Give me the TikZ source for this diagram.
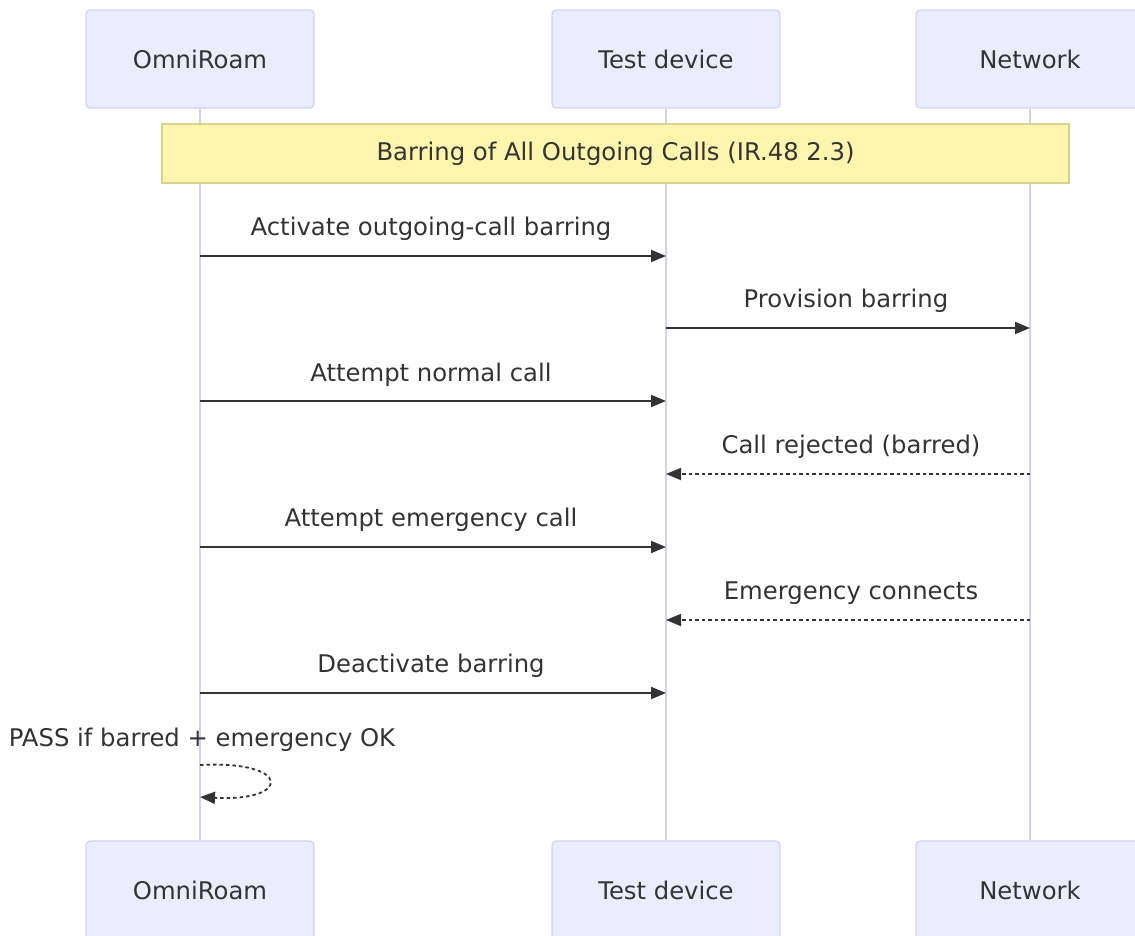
\documentclass[tikz,border=0pt]{standalone}
\usepackage{fontspec}
\setmainfont{DejaVu Sans}
\usetikzlibrary{arrows.meta}
\definecolor{actfill}{HTML}{ECECFF}
\definecolor{actline}{HTML}{D6D0F8}
\definecolor{lifeline}{HTML}{D6D0F8}
\definecolor{notefill}{HTML}{FFF5AD}
\definecolor{noteline}{HTML}{D4D48A}
\definecolor{msgline}{HTML}{333333}

\begin{document}
\begin{tikzpicture}[x=1pt, y=-1pt,
		every node/.style={font=\fontsize{24.3}{29}\selectfont, text=msgline},
		actor/.style={rectangle, rounded corners=4pt, draw=actline, fill=actfill, line width=1.2pt, minimum width=228pt, minimum height=98pt},
		msg/.style={draw=msgline, line width=1.8pt, -{Triangle[length=15pt,width=12pt]}},
		reply/.style={msg, dash pattern=on 3.5pt off 3pt}]
				\useasboundingbox (0,0) rectangle (1135,935);
				% actors
				\node[actor] (OT) at (200,59) {OmniRoam};
				\node[actor] (TT) at (666,59) {Test device};
				\node[actor] (NT) at (1030,59) {Network};
				\node[actor] (OB) at (200,890) {OmniRoam};
				\node[actor] (TB) at (666,890) {Test device};
				\node[actor] (NB) at (1030,890) {Network};
				
				\draw[lifeline, line width=1.6pt] (OT) -- (OB);
				\draw[lifeline, line width=1.6pt] (TT) -- (TB);
				\draw[lifeline, line width=1.6pt] (NT) -- (NB);
				
				\node[rectangle, draw=noteline, fill=notefill, line width=1.2pt, minimum width=907pt, minimum height=59pt] (note) at (615.5,153.5) {Barring of All Outgoing Calls (IR.48 2.3)};
				
				% message points on the lifelines
				\coordinate (O1) at (200,256); \coordinate (T1) at (666,256);
				\coordinate (T2) at (666,328); \coordinate (N2) at (1030,328);
				\coordinate (O3) at (200,401); \coordinate (T3) at (666,401);
				\coordinate (N4) at (1030,474); \coordinate (T4) at (666,474);
				\coordinate (O5) at (200,547); \coordinate (T5) at (666,547);
				\coordinate (N6) at (1030,620); \coordinate (T6) at (666,620);
				\coordinate (O7) at (200,693); \coordinate (T7) at (666,693);
				\coordinate (S1) at (200,765); \coordinate (S2) at (200,797);
				
				\node (L1) at (431,229) {Activate outgoing-call barring};
				\node (L2) at (846,301) {Provision barring};
				\node (L3) at (431,375) {Attempt normal call};
				\node (L4) at (851,447) {Call rejected (barred)};
				\node (L5) at (431,520) {Attempt emergency call};
				\node (L6) at (851,593) {Emergency connects};
				\node (L7) at (431,666) {Deactivate barring};
				\node (L8) at (202,740) {PASS if barred + emergency OK};
				
				\draw[msg] (O1) -- (T1);
				\draw[msg] (T2) -- (N2);
				\draw[msg] (O3) -- (T3);
				\draw[reply] (N4) -- (T4);
				\draw[msg] (O5) -- (T5);
				\draw[reply] (N6) -- (T6);
				\draw[msg] (O7) -- (T7);
				\draw[reply] (S1) .. controls (292,760) and (292,802) .. (S2);
			\end{tikzpicture}
\end{document}
